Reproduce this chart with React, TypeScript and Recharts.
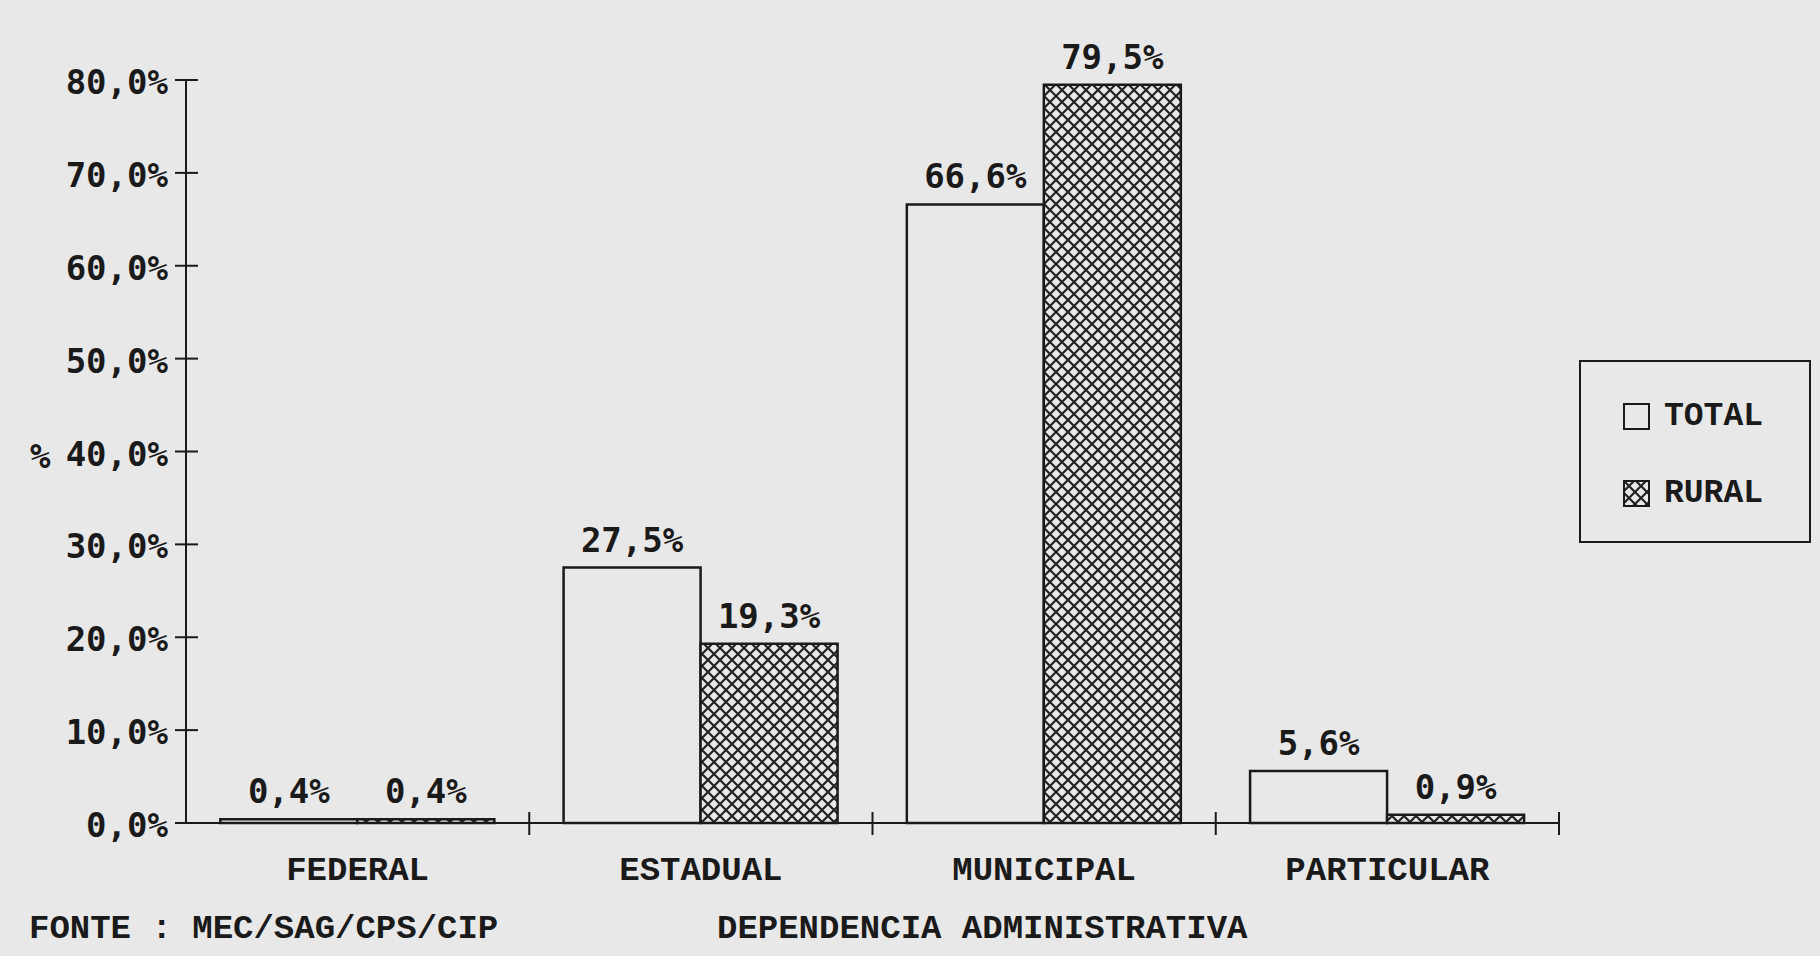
import { BarChart, Bar, XAxis, YAxis, LabelList } from "recharts";

// Data
const categories = ["FEDERAL", "ESTADUAL", "MUNICIPAL", "PARTICULAR"];
const totalValues = [0.4, 27.5, 66.6, 5.6];
const ruralValues = [0.4, 19.3, 79.5, 0.9];
const yTicks = [0, 10, 20, 30, 40, 50, 60, 70, 80];
const seriesNames = ["TOTAL", "RURAL"];

const data = categories.map((name, i) => ({
  name,
  total: totalValues[i],
  rural: ruralValues[i],
}));

const BG = "#e8e8e8";
const INK = "#1a1a1a";
const NUM_FONT = "'DejaVu Sans Mono', monospace";
const LBL_FONT = "'Liberation Mono', 'DejaVu Sans Mono', monospace";

const fmtPct = (v: number) => `${v.toFixed(1).replace(".", ",")}%`;

function YTick(props: any) {
  const { x, y, payload } = props;
  return (
    <g>
      <line x1={x + 7} x2={x + 30} y1={y} y2={y} stroke={INK} strokeWidth={2} />
      <text
        x={x}
        y={y + 2}
        textAnchor="end"
        dominantBaseline="central"
        fontFamily={NUM_FONT}
        fontWeight="bold"
        fontSize={34}
        fill={INK}
      >
        {fmtPct(payload.value)}
      </text>
    </g>
  );
}

function XTick(props: any) {
  const { x, y, payload } = props;
  const half = payload.offset ?? 171.6;
  return (
    <g>
      <line x1={x + half} x2={x + half} y1={y - 11} y2={y + 12} stroke={INK} strokeWidth={2} />
      <text
        x={x}
        y={y + 48}
        textAnchor="middle"
        dominantBaseline="central"
        fontFamily={LBL_FONT}
        fontWeight="bold"
        fontSize={34}
        fill={INK}
      >
        {payload.value}
      </text>
    </g>
  );
}

function LegendBox() {
  const fills = ["none", "url(#hatch)"];
  return (
    <div
      style={{
        position: "absolute",
        left: 1579,
        top: 360,
        width: 232,
        height: 183,
        border: `2px solid ${INK}`,
        boxSizing: "border-box",
        paddingLeft: 42,
        paddingTop: 36,
        display: "flex",
        flexDirection: "column",
        gap: 41,
      }}
    >
      {seriesNames.map((label, i) => (
        <div key={label} style={{ display: "flex", alignItems: "center", height: 36 }}>
          <svg width={27} height={27} style={{ marginRight: 14 }}>
            <rect x={1} y={1} width={25} height={25} fill={fills[i]} stroke={INK} strokeWidth={2} />
          </svg>
          <span style={{ fontFamily: LBL_FONT, fontWeight: "bold", fontSize: 33, color: INK }}>
            {label}
          </span>
        </div>
      ))}
    </div>
  );
}

export default function App() {
  return (
    <div style={{ position: "relative", width: 1820, height: 956, background: BG }}>
      <style>{`body{margin:0;background:${BG}}`}</style>
      <BarChart
        width={1820}
        height={956}
        data={data}
        margin={{ top: 80, right: 261, bottom: 73, left: 0 }}
        barGap={0}
        barCategoryGap="10%"
      >
        <defs>
          <pattern id="hatch" patternUnits="userSpaceOnUse" width={12} height={12}>
            <rect width={12} height={12} fill={BG} />
            <path d="M0,0 L12,12 M12,0 L0,12" stroke="#222" strokeWidth={2.2} />
          </pattern>
        </defs>
        <XAxis
          dataKey="name"
          axisLine={{ stroke: INK, strokeWidth: 2 }}
          tickLine={false}
          tickSize={0}
          tickMargin={0}
          height={60}
          tick={<XTick />}
          interval={0}
        />
        <YAxis
          width={186}
          domain={[0, 80]}
          ticks={yTicks}
          axisLine={{ stroke: INK, strokeWidth: 2 }}
          tickLine={false}
          tickSize={0}
          tickMargin={18}
          tick={<YTick />}
          interval={0}
        />
        <Bar dataKey="total" name={seriesNames[0]} fill="none" stroke={INK} strokeWidth={2.5} isAnimationActive={false}>
          <LabelList
            dataKey="total"
            position="top"
            offset={16}
            formatter={(v: any) => fmtPct(Number(v))}
            style={{ fontFamily: NUM_FONT, fontWeight: "bold", fontSize: 34, fill: INK }}
          />
        </Bar>
        <Bar dataKey="rural" name={seriesNames[1]} fill="url(#hatch)" stroke={INK} strokeWidth={2.5} isAnimationActive={false}>
          <LabelList
            dataKey="rural"
            position="top"
            offset={16}
            formatter={(v: any) => fmtPct(Number(v))}
            style={{ fontFamily: NUM_FONT, fontWeight: "bold", fontSize: 34, fill: INK }}
          />
        </Bar>
      </BarChart>

      <LegendBox />

      {/* y axis unit */}
      <div
        style={{
          position: "absolute",
          left: 30,
          top: 436,
          fontFamily: NUM_FONT,
          fontWeight: "bold",
          fontSize: 34,
          color: INK,
        }}
      >
        %
      </div>
      {/* source and axis title */}
      <div
        style={{
          position: "absolute",
          left: 29,
          top: 910,
          fontFamily: LBL_FONT,
          fontWeight: "bold",
          fontSize: 34,
          color: INK,
          whiteSpace: "pre",
        }}
      >
        FONTE : MEC/SAG/CPS/CIP
      </div>
      <div
        style={{
          position: "absolute",
          left: 717,
          top: 910,
          fontFamily: LBL_FONT,
          fontWeight: "bold",
          fontSize: 34,
          color: INK,
          whiteSpace: "pre",
        }}
      >
        DEPENDENCIA ADMINISTRATIVA
      </div>
    </div>
  );
}
